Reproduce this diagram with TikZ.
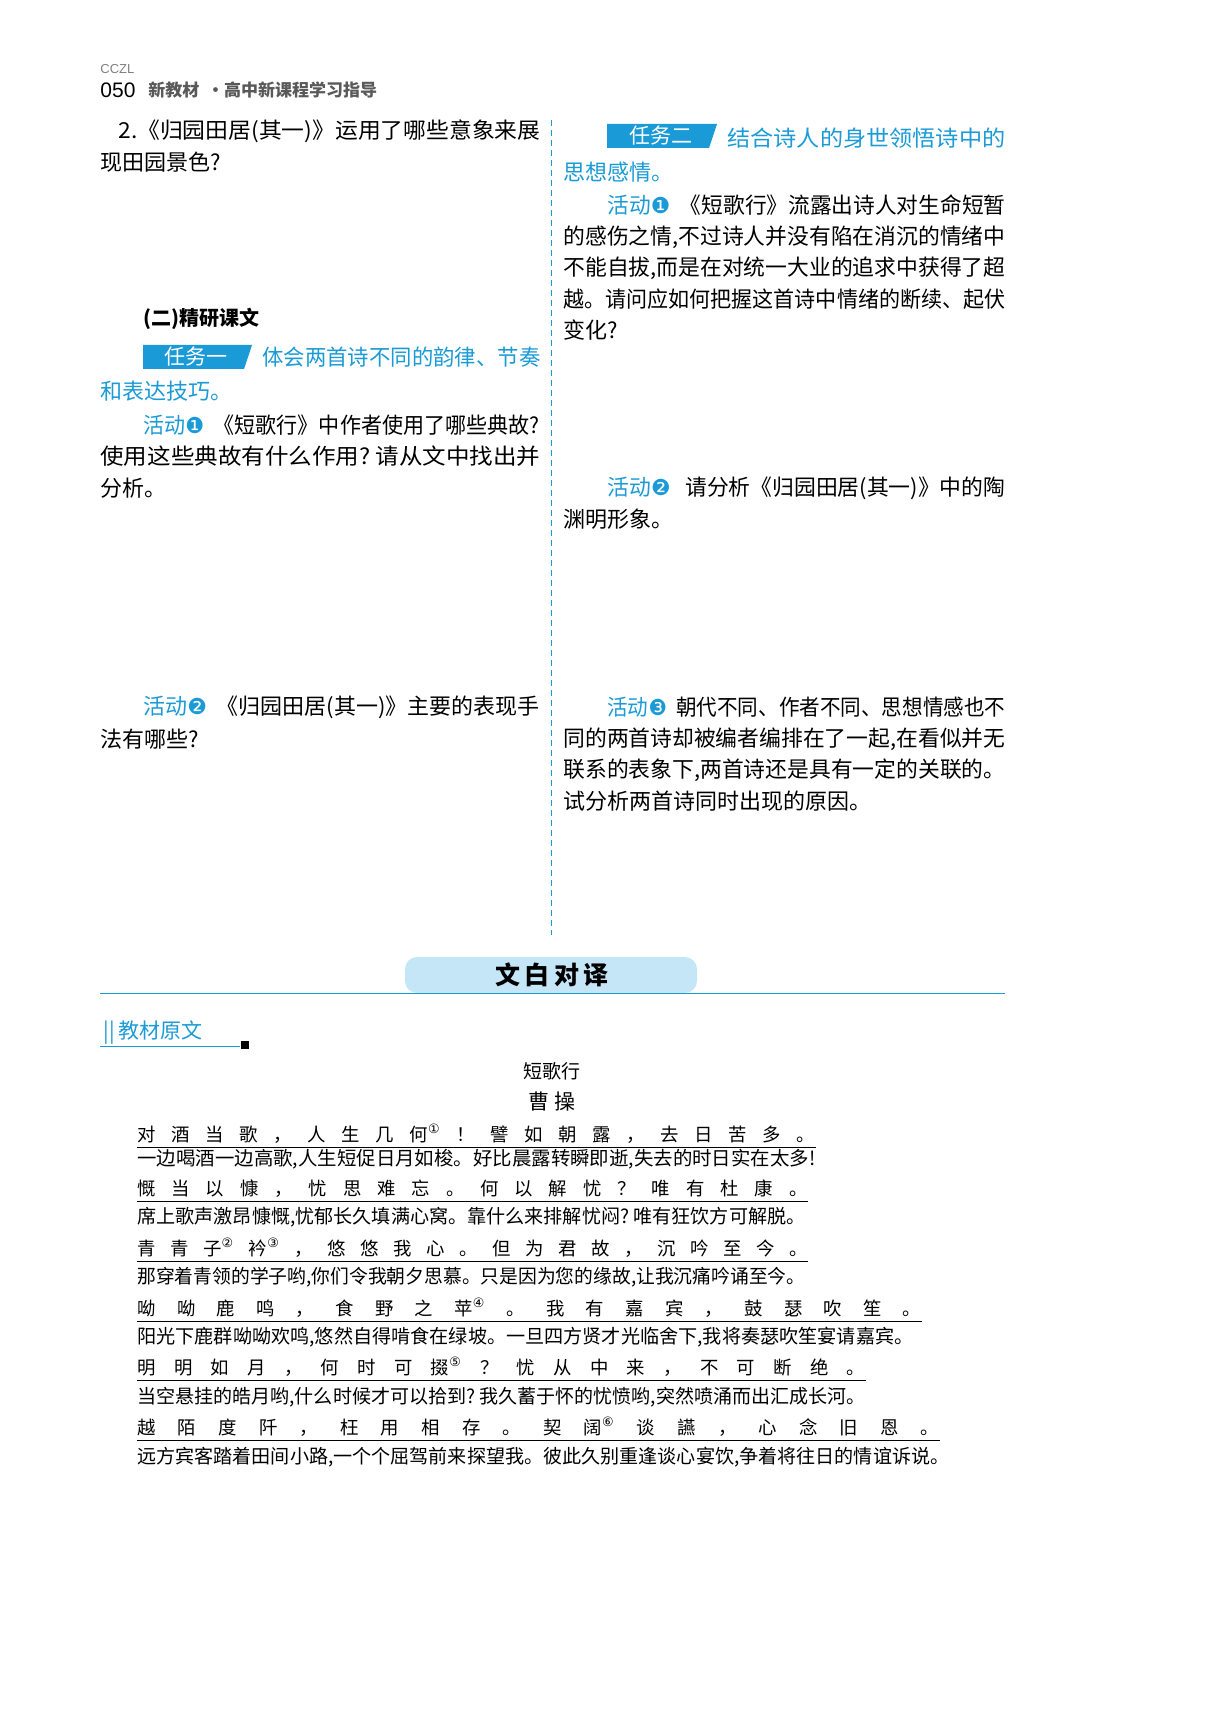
\documentclass[tikz,border=0pt]{standalone}
\usepackage{fontspec}
\usepackage{graphicx}
\setmainfont{Noto Sans CJK SC}
\newfontfamily\dejavu{DejaVu Sans}
\newfontfamily\latin{Liberation Sans}
\definecolor{cyanc}{HTML}{1A9AD6}
\definecolor{tabblue}{HTML}{C4E6F7}
\newcommand\act[1]{{\color{cyanc}活动{\dejavu #1}}}
\newcommand\nt[1]{\textsuperscript{\dejavu #1}}
\newcommand\fit[2]{\resizebox{#1pt}{\height}{#2}}
\tikzset{
  body/.style={anchor=west, inner sep=0pt, font=\fontsize{11}{15.5}\selectfont},
  cyantxt/.style={body, text=cyanc},
  poem/.style={anchor=west, inner xsep=0pt, inner ysep=1.5pt, font=\fontsize{9.2}{10}\selectfont},
  trans/.style={anchor=west, inner sep=0pt, font=\fontsize{9.6}{10}\selectfont},
  taskbox/.style={fill=cyanc, draw=none},
}
\begin{document}
\begin{tikzpicture}[x=0.5pt, y=-0.5pt]
\useasboundingbox (0,0) rectangle (1224,1717);

% header
\node[anchor=west, inner sep=0pt, text=gray, font=\latin\fontsize{6.5}{7}\selectfont] (cczl) at (100,69) {CCZL};
\node[anchor=west, inner sep=0pt, font=\latin\fontsize{10.5}{12}\selectfont] (page) at (100,90) {050};
\node[anchor=west, inner sep=0pt, text=black!65, font=\bfseries\fontsize{8.5}{10}\selectfont] (book) at (148,90) {新教材\ \ ·高中新课程学习指导};

% column separator
\draw[cyanc, densely dashed, thin] (551,120) -- (551,935);

% left column
\node[body] (q2a) at (118,131) {\fit{211}{2.《归园田居(其一)》运用了哪些意象来展}};
\node[body] (q2b) at (100,162) {现田园景色?};
\node[body, font=\bfseries\fontsize{10}{12}\selectfont] (sec2) at (143,319) {(二)精研课文};

\fill[taskbox] (143,345) -- (252,345) -- (244,369) -- (143,369) -- cycle;
\node[anchor=center, text=white, font=\fontsize{10.5}{12}\selectfont] (t1) at (196,357) {任务一};
\node[cyantxt] (t1a) at (262,357) {\fit{139}{体会两首诗不同的韵律、节奏}};
\node[cyantxt] (t1b) at (100,391) {和表达技巧。};

\node[body] (a1a) at (143,425) {\fit{198}{\act{❶}\ \ 《短歌行》中作者使用了哪些典故?}};
\node[body] (a1b) at (100,456) {\fit{220}{使用这些典故有什么作用?\ 请从文中找出并}};
\node[body] (a1c) at (100,488) {分析。};

\node[body] (a2a) at (143,707) {\fit{198}{\act{❷}\ \ 《归园田居(其一)》主要的表现手}};
\node[body] (a2b) at (100,739) {法有哪些?};

% right column
\fill[taskbox] (607,124) -- (717,124) -- (709,148) -- (607,148) -- cycle;
\node[anchor=center, text=white, font=\fontsize{10.5}{12}\selectfont] (t2) at (661,136) {任务二};
\node[cyantxt] (t2a) at (727,138) {\fit{139}{结合诗人的身世领悟诗中的}};
\node[cyantxt] (t2b) at (563,172) {思想感情。};

\node[body] (b1a) at (607,205) {\fit{199}{\act{❶}\ \ 《短歌行》流露出诗人对生命短暂}};
\node[body] (b1b) at (563,237) {\fit{221}{的感伤之情,不过诗人并没有陷在消沉的情绪中}};
\node[body] (b1c) at (563,268) {\fit{221}{不能自拔,而是在对统一大业的追求中获得了超}};
\node[body] (b1d) at (563,299) {\fit{221}{越。请问应如何把握这首诗中情绪的断续、起伏}};
\node[body] (b1e) at (563,330) {变化?};

\node[body] (b2a) at (607,488) {\fit{199}{\act{❷}\ \ \ 请分析《归园田居(其一)》中的陶}};
\node[body] (b2b) at (563,519) {渊明形象。};

\node[body] (b3a) at (607,707) {\fit{199}{\act{❸}\ \ 朝代不同、作者不同、思想情感也不}};
\node[body] (b3b) at (563,739) {\fit{221}{同的两首诗却被编者编排在了一起,在看似并无}};
\node[body] (b3c) at (563,770) {\fit{221}{联系的表象下,两首诗还是具有一定的关联的。}};
\node[body] (b3d) at (563,801) {试分析两首诗同时出现的原因。};

% bottom section title
\fill[tabblue, rounded corners=6pt] (405,993) -- (405,957) -- (697,957) -- (697,993) -- cycle;
\node[font=\bfseries\fontsize{12.5}{14}\selectfont] (wbdy) at (552,975) {文\,白\,对\,译};
\draw[cyanc, thin] (100,993) -- (1005,993);

\node[anchor=west, inner sep=0pt, text=cyanc, font=\fontsize{10.5}{12}\selectfont] (jcyw) at (103,1033) {||\,教材原文};
\draw[cyanc, thin] (100,1046) -- (240,1046);
\fill (241,1041) rectangle (249,1049);

\node[font=\fontsize{9.5}{11}\selectfont] (title) at (552,1071) {短歌行};
\node[font=\fontsize{10.5}{12}\selectfont] (author) at (552,1102) {曹\ 操};

% poem lines and translations
\node[poem] (p1) at (137,1134) {\makebox[339pt][s]{对 酒 当 歌 ， 人 生 几 何\nt{①} ！ 譬 如 朝 露 ， 去 日 苦 多 。}};
\draw[thin] (p1.south west) -- (p1.south east);
\node[trans] (r1) at (137,1159) {\fit{339}{一边喝酒一边高歌,人生短促日月如梭。好比晨露转瞬即逝,失去的时日实在太多!}};

\node[poem] (p2) at (137,1189) {\makebox[335pt][s]{慨 当 以 慷 ， 忧 思 难 忘 。 何 以 解 忧 ？ 唯 有 杜 康 。}};
\draw[thin] (p2.south west) -- (p2.south east);
\node[trans] (r2) at (137,1217) {\fit{334}{席上歌声激昂慷慨,忧郁长久填满心窝。靠什么来排解忧闷?\ 唯有狂饮方可解脱。}};

\node[poem] (p3) at (137,1248) {\makebox[335pt][s]{青 青 子\nt{②} 衿\nt{③} ， 悠 悠 我 心 。 但 为 君 故 ， 沉 吟 至 今 。}};
\draw[thin] (p3.south west) -- (p3.south east);
\node[trans] (r3) at (137,1277) {\fit{334}{那穿着青领的学子哟,你们令我朝夕思慕。只是因为您的缘故,让我沉痛吟诵至今。}};

\node[poem] (p4) at (137,1308) {\makebox[392pt][s]{呦 呦 鹿 鸣 ， 食 野 之 苹\nt{④} 。 我 有 嘉 宾 ， 鼓 瑟 吹 笙 。}};
\draw[thin] (p4.south west) -- (p4.south east);
\node[trans] (r4) at (137,1337) {\fit{388}{阳光下鹿群呦呦欢鸣,悠然自得啃食在绿坡。一旦四方贤才光临舍下,我将奏瑟吹笙宴请嘉宾。}};

\node[poem] (p5) at (137,1367) {\makebox[364pt][s]{明 明 如 月 ， 何 时 可 掇\nt{⑤} ？ 忧 从 中 来 ， 不 可 断 绝 。}};
\draw[thin] (p5.south west) -- (p5.south east);
\node[trans] (r5) at (137,1397) {\fit{364}{当空悬挂的皓月哟,什么时候才可以拾到?\ 我久蓄于怀的忧愤哟,突然喷涌而出汇成长河。}};

\node[poem] (p6) at (137,1427) {\makebox[401pt][s]{越 陌 度 阡 ， 枉 用 相 存 。 契 阔\nt{⑥} 谈 讌 ， 心 念 旧 恩 。}};
\draw[thin] (p6.south west) -- (p6.south east);
\node[trans] (r6) at (137,1457) {\fit{406}{远方宾客踏着田间小路,一个个屈驾前来探望我。彼此久别重逢谈心宴饮,争着将往日的情谊诉说。}};
\end{tikzpicture}
\end{document}
